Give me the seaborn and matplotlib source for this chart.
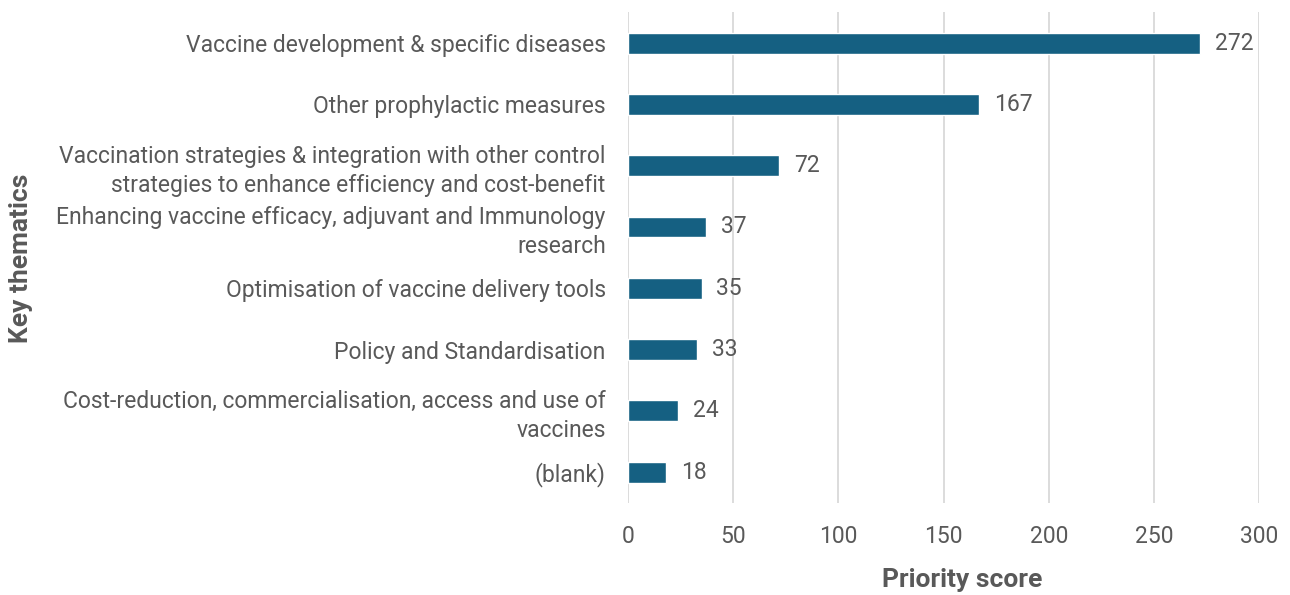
import matplotlib
matplotlib.use("Agg")
import matplotlib.pyplot as plt
import seaborn as sns
import pandas as pd

themes = [
    "Vaccine development & specific diseases",
    "Other prophylactic measures",
    "Vaccination strategies & integration with other control\nstrategies to enhance efficiency and cost-benefit",
    "Enhancing vaccine efficacy, adjuvant and Immunology\nresearch",
    "Optimisation of vaccine delivery tools",
    "Policy and Standardisation",
    "Cost-reduction, commercialisation, access and use of\nvaccines",
    "(blank)",
]
scores = [272, 167, 72, 37, 35, 33, 24, 18]
x_ticks = [0, 50, 100, 150, 200, 250, 300]

df = pd.DataFrame({"theme": themes, "score": scores})

sns.set_theme(style="white")
plt.rcParams["font.family"] = ["Roboto", "DejaVu Sans"]

text_color = "#595959"
bar_color = "#156082"

fig = plt.figure(figsize=(12.9, 5.95), dpi=100)
ax = fig.add_axes([0.4868, 0.155, 0.4893, 0.824])

sns.barplot(data=df, x="score", y="theme", orient="h", color=bar_color,
            width=0.34, saturation=1, ax=ax)

ax.set_xlim(0, 300)
ax.set_ylim(len(themes) - 0.5, -0.5)
ax.set_xticks(x_ticks)
ax.xaxis.grid(True, color="#d9d9d9", linewidth=1.3)
ax.set_axisbelow(True)
for s in ax.spines.values():
    s.set_visible(False)

ax.tick_params(axis="y", length=0, pad=16, labelsize=16.5, labelcolor=text_color)
ax.tick_params(axis="x", length=0, pad=16, labelsize=16.5, labelcolor=text_color)
for lbl in ax.get_yticklabels():
    lbl.set_linespacing(1.3)

for i, v in enumerate(scores):
    ax.text(v + 7, i, str(v), va="center", ha="left", fontsize=16.5, color=text_color)

ax.set_xlabel("")
ax.set_ylabel("")
fig.text(0.746, 0.005, "Priority score", ha="center", va="bottom",
         fontsize=19, fontweight="bold", color=text_color)
fig.text(0.016, 0.566, "Key thematics", ha="center", va="center", rotation=90,
         fontsize=19, fontweight="bold", color=text_color)

fig.savefig("out.png", dpi=100)
